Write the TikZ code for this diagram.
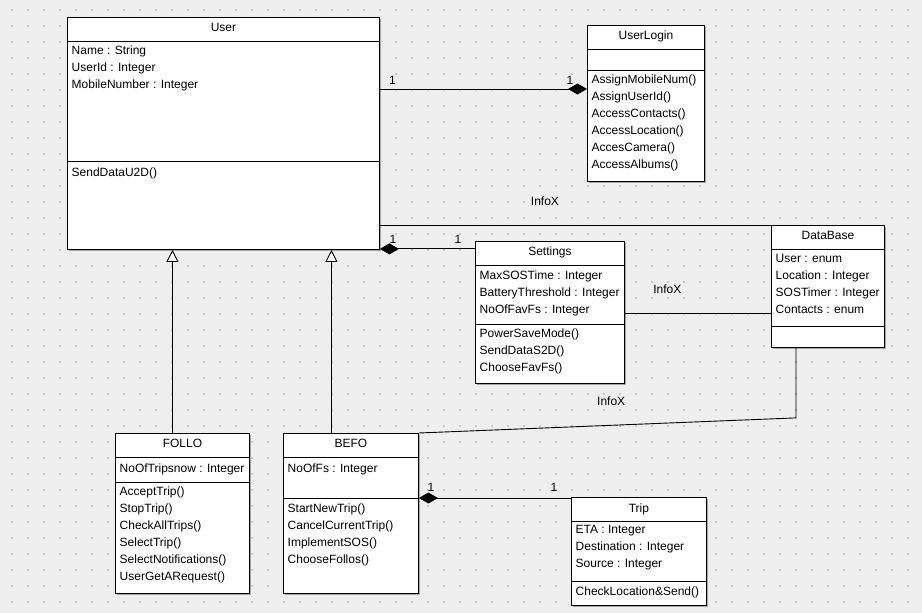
\documentclass[tikz,border=0pt]{standalone}
\usepackage{fontspec}
\setmainfont{Liberation Sans}
\usetikzlibrary{positioning, calc, arrows.meta, shadows}
\definecolor{canvas}{RGB}{238, 238, 238}
\definecolor{griddot}{RGB}{200, 200, 200}

\begin{document}
\begin{tikzpicture}[
    x=1pt, y=-1pt,
    umlfont/.style={font=\fontsize{12}{17}\selectfont},
    classbox/.style={draw=black, line width=0.9pt, fill=white, anchor=north west, inner sep=0pt, drop shadow={shadow xshift=1.5pt, shadow yshift=-1.5pt, fill=black!35, opacity=1}},
    classname/.style={umlfont, anchor=base, inner sep=0pt},
    members/.style={umlfont, align=left, anchor=north west, inner sep=0pt, execute at begin node={\rule{0pt}{10pt}}},
    mult/.style={umlfont, anchor=base, inner sep=0pt},
    lbl/.style={umlfont, anchor=base, inner sep=0pt},
    link/.style={line width=0.9pt, black},
    comp/.style={link, {Diamond[length=19pt, width=11pt]}-},
    inherit/.style={link, -{Triangle[open, fill=white, length=12pt, width=12pt]}}
]
    % canvas with dotted grid
    \fill[canvas] (0,0) rectangle (922,613);
    \foreach \i in {0,...,56}
        \foreach \j in {0,...,37}
            \fill[griddot] ({11+16*\i},{9+16*\j}) rectangle ++(2,2);

    % User
    \node[classbox, minimum width=312, minimum height=232] (user) at (67,17) {};
    \node[classname] (user-name) at ([yshift=-14pt]user.north) {User};
    \draw[link] ([yshift=-24pt]user.north west) -- ([yshift=-24pt]user.north east);
    \draw[link] ([yshift=-144pt]user.north west) -- ([yshift=-144pt]user.north east);
    \node[members] (user-attr) at ([xshift=4.5pt, yshift=-29pt]user.north west) {Name : String\\UserId : Integer\\MobileNumber : Integer};
    \node[members] (user-ops) at ([xshift=4.5pt, yshift=-149pt]user.north west) {SendDataU2D()};

    % UserLogin
    \node[classbox, minimum width=117, minimum height=156] (login) at (587,25) {};
    \node[classname] (login-name) at ([yshift=-14pt]login.north) {UserLogin};
    \draw[link] ([yshift=-24pt]login.north west) -- ([yshift=-24pt]login.north east);
    \draw[link] ([yshift=-45pt]login.north west) -- ([yshift=-45pt]login.north east);
    \node[members] (login-ops) at ([xshift=4.5pt, yshift=-50pt]login.north west) {AssignMobileNum()\\AssignUserId()\\AccessContacts()\\AccessLocation()\\AccesCamera()\\AccessAlbums()};

    % Settings
    \node[classbox, minimum width=149, minimum height=142] (settings) at (475,241) {};
    \node[classname] (settings-name) at ([yshift=-14pt]settings.north) {Settings};
    \draw[link] ([yshift=-24pt]settings.north west) -- ([yshift=-24pt]settings.north east);
    \draw[link] ([yshift=-83pt]settings.north west) -- ([yshift=-83pt]settings.north east);
    \node[members] (settings-attr) at ([xshift=4.5pt, yshift=-29.5pt]settings.north west) {MaxSOSTime : Integer\\BatteryThreshold : Integer\\NoOfFavFs : Integer};
    \node[members] (settings-ops) at ([xshift=4.5pt, yshift=-88pt]settings.north west) {PowerSaveMode()\\SendDataS2D()\\ChooseFavFs()};

    % DataBase
    \node[classbox, minimum width=113, minimum height=122] (db) at (771,225) {};
    \node[classname] (db-name) at ([yshift=-14pt]db.north) {DataBase};
    \draw[link] ([yshift=-24pt]db.north west) -- ([yshift=-24pt]db.north east);
    \draw[link] ([yshift=-101pt]db.north west) -- ([yshift=-101pt]db.north east);
    \node[members] (db-attr) at ([xshift=4.5pt, yshift=-29pt]db.north west) {User : enum\\Location : Integer\\SOSTimer : Integer\\Contacts : enum};

    % FOLLO
    \node[classbox, minimum width=134, minimum height=160] (follo) at (115,433) {};
    \node[classname] (follo-name) at ([yshift=-14pt]follo.north) {FOLLO};
    \draw[link] ([yshift=-24pt]follo.north west) -- ([yshift=-24pt]follo.north east);
    \draw[link] ([yshift=-49pt]follo.north west) -- ([yshift=-49pt]follo.north east);
    \node[members] (follo-attr) at ([xshift=4.5pt, yshift=-29pt]follo.north west) {NoOfTripsnow : Integer};
    \node[members] (follo-ops) at ([xshift=4.5pt, yshift=-53.5pt]follo.north west) {AcceptTrip()\\StopTrip()\\CheckAllTrips()\\SelectTrip()\\SelectNotifications()\\UserGetARequest()};

    % BEFO
    \node[classbox, minimum width=135, minimum height=160] (befo) at (283,433) {};
    \node[classname] (befo-name) at ([yshift=-14pt]befo.north) {BEFO};
    \draw[link] ([yshift=-24pt]befo.north west) -- ([yshift=-24pt]befo.north east);
    \draw[link] ([yshift=-65pt]befo.north west) -- ([yshift=-65pt]befo.north east);
    \node[members] (befo-attr) at ([xshift=4.5pt, yshift=-29pt]befo.north west) {NoOfFs : Integer};
    \node[members] (befo-ops) at ([xshift=4.5pt, yshift=-71pt]befo.north west) {StartNewTrip()\\CancelCurrentTrip()\\ImplementSOS()\\ChooseFollos()};

    % Trip
    \node[classbox, minimum width=135, minimum height=108] (trip) at (571,497) {};
    \node[classname] (trip-name) at ([yshift=-15pt]trip.north) {Trip};
    \draw[link] ([yshift=-24pt]trip.north west) -- ([yshift=-24pt]trip.north east);
    \draw[link] ([yshift=-84pt]trip.north west) -- ([yshift=-84pt]trip.north east);
    \node[members] (trip-attr) at ([xshift=4.5pt, yshift=-28.5pt]trip.north west) {ETA : Integer\\Destination : Integer\\Source : Integer};
    \node[members] (trip-ops) at ([xshift=4.5pt, yshift=-88.5pt]trip.north west) {CheckLocation\&Send()};

    % connectors
    \coordinate (ul) at ([yshift=-72pt]user.north east);
    \draw[link, -{Diamond[length=19pt, width=11pt]}] (ul) -- (ul -| login.west)
        node[mult, at start, xshift=12.5pt, yshift=5pt] (m1) {1}
        node[mult, at end, xshift=-17pt, yshift=5pt] (m2) {1};

    \coordinate (us) at ([yshift=1pt]user.south east);
    \draw[comp] (us) -- (us -| settings.west)
        node[mult, at start, xshift=13pt, yshift=5.5pt] (m3) {1}
        node[mult, at end, xshift=-17pt, yshift=5.5pt] (m4) {1};

    \draw[link] (db.north west) -- (db.north west -| user.east)
        node[lbl, pos=0.578, yshift=20pt] (info1) {InfoX};

    \coordinate (sd) at ([yshift=-72pt]settings.north east);
    \draw[link] (sd) -- (sd -| db.west)
        node[lbl, pos=0.29, yshift=20pt] (info2) {InfoX};

    \draw[link] ([xshift=25pt]db.south west) -- ++(0,70) -- (befo.north east)
        node[lbl, pos=0.49, yshift=20pt] (info3) {InfoX};

    \coordinate (bt) at ([yshift=-65pt]befo.north east);
    \draw[comp] (bt) -- (bt -| trip.west)
        node[mult, at start, xshift=12pt, yshift=7pt] (m5) {1}
        node[mult, at end, xshift=-17pt, yshift=7pt] (m6) {1};

    \coordinate (fg) at ([xshift=-10pt]follo.north);
    \draw[inherit] (fg) -- (fg |- user.south);
    \coordinate (bg) at ([xshift=-19.5pt]befo.north);
    \draw[inherit] (bg) -- (bg |- user.south);
\end{tikzpicture}
\end{document}
